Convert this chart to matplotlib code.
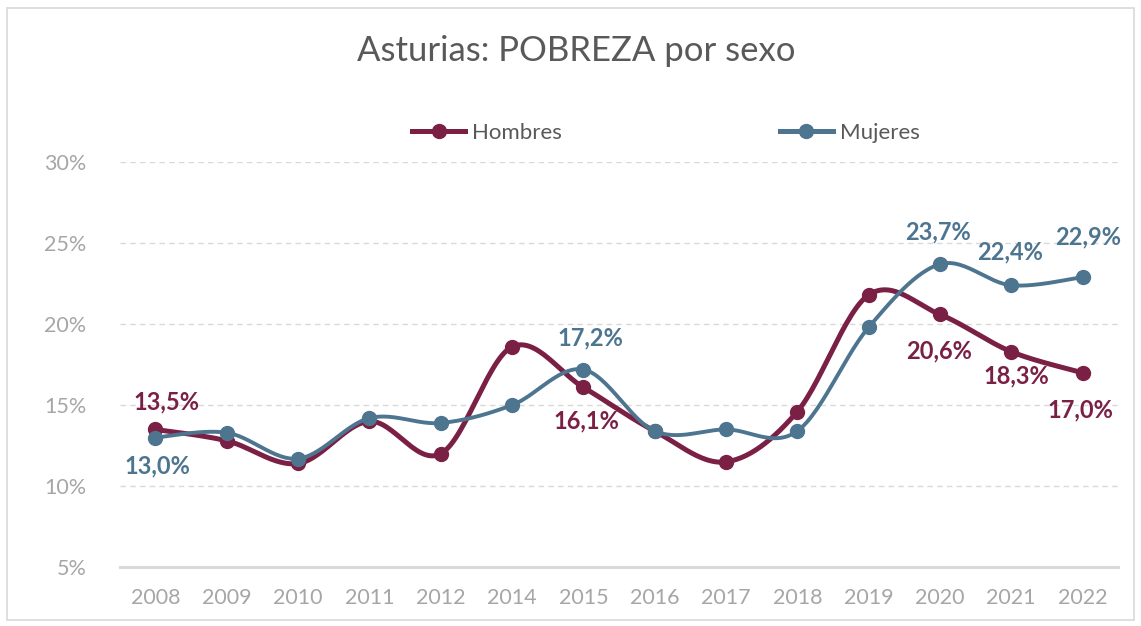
import numpy as np
import matplotlib
matplotlib.use("Agg")
import matplotlib.pyplot as plt
from matplotlib.patches import Rectangle

# datos
years = ["2008", "2009", "2010", "2011", "2012", "2014", "2015",
         "2016", "2017", "2018", "2019", "2020", "2021", "2022"]
hombres = [13.5, 12.8, 11.4, 14.0, 12.0, 18.6, 16.1,
           13.4, 11.5, 14.6, 21.8, 20.6, 18.3, 17.0]
mujeres = [13.0, 13.3, 11.7, 14.2, 13.9, 15.0, 17.2,
           13.4, 13.5, 13.4, 19.8, 23.7, 22.4, 22.9]

# etiquetas visibles: (indice, desplazamiento en pixeles)
lab_h = {0: (11, 28), 6: (3, -34), 11: (-1, -36), 12: (5, -24), 13: (-2, -37)}
lab_m = {0: (2, -28), 6: (7, 32), 11: (-2, 32), 12: (-1, 33), 13: (6, 40)}

c_h = "#7B2045"
c_m = "#4E7590"
grey = "#A6A6A6"


def smooth(y, n=30):
    # curva tipo excel (bezier con puntos vecinos)
    y = np.asarray(y, float)
    x = np.arange(len(y), dtype=float)
    P = np.column_stack([x, y])
    P = np.vstack([P[0], P, P[-1]])
    t = np.linspace(0, 1, n)[:, None]
    out = []
    for i in range(1, len(P) - 2):
        p0, p1 = P[i], P[i + 1]
        c1 = p0 + (P[i + 1] - P[i - 1]) / 6
        c2 = p1 - (P[i + 2] - P[i]) / 6
        seg = (1 - t) ** 3 * p0 + 3 * (1 - t) ** 2 * t * c1 + 3 * (1 - t) * t ** 2 * c2 + t ** 3 * p1
        out.append(seg)
    out = np.vstack(out)
    return out[:, 0], out[:, 1]


plt.rcParams['font.family'] = ['Lato', 'DejaVu Sans']

fig = plt.figure(figsize=(11.41, 6.26), dpi=100)
fig.patches.append(Rectangle((0.006, 0.01), 0.988, 0.978, transform=fig.transFigure,
                             fill=False, edgecolor="#D9D9D9", linewidth=1.2))
ax = fig.add_axes([0.105, 0.094, 0.875, 0.647])

x = np.arange(len(years))
for vals, col, lw, z in [(hombres, c_h, 3.6, 3), (mujeres, c_m, 2.8, 4)]:
    sx, sy = smooth(vals)
    ax.plot(sx, sy, color=col, lw=lw, zorder=z, solid_capstyle="round")
    ax.plot(x, vals, "o", color=col, ms=10, zorder=z)

for labs, vals, col in [(lab_h, hombres, c_h), (lab_m, mujeres, c_m)]:
    for i, (dx, dy) in labs.items():
        ax.annotate(f"{vals[i]:.1f}%".replace(".", ","), (x[i], vals[i]),
                    xytext=(dx, dy), textcoords="offset pixels",
                    ha="center", va="center", fontsize=17, fontweight="bold",
                    color=col, zorder=6)

ax.set_xlim(-0.5, 13.5)
ax.set_ylim(5, 30)
ax.set_yticks([5, 10, 15, 20, 25, 30])
ax.set_yticklabels([f"{v}%" for v in [5, 10, 15, 20, 25, 30]])
ax.set_xticks(x)
ax.set_xticklabels(years)
ax.tick_params(length=0, colors=grey, labelsize=15.5)
ax.tick_params(axis="x", pad=15)
ax.tick_params(axis="y", pad=24)
ax.grid(axis="y", color="#D9D9D9", linestyle=(0, (4, 3)), linewidth=1)
ax.set_axisbelow(True)
for s in ["top", "right", "left"]:
    ax.spines[s].set_visible(False)
ax.spines["bottom"].set_color("#D9D9D9")
ax.spines["bottom"].set_linewidth(2.2)

fig.text(0.505, 0.918, "Asturias: POBREZA por sexo", ha="center", va="center",
         fontsize=25, color="#595959")

ax.plot([], [], "-o", color=c_h, lw=3.6, ms=10, label="Hombres")
ax.plot([], [], "-o", color=c_m, lw=3.6, ms=10, label="Mujeres")
h, l = ax.get_legend_handles_labels()
ax.legend(h[-2:], l[-2:], loc="center", bbox_to_anchor=(0.547, 1.072), ncol=2, frameon=False,
          fontsize=16, labelcolor="#595959", handlelength=2.4, handletextpad=0.3,
          columnspacing=9.8, borderaxespad=0, borderpad=0)

fig.savefig("out.png", dpi=100)
